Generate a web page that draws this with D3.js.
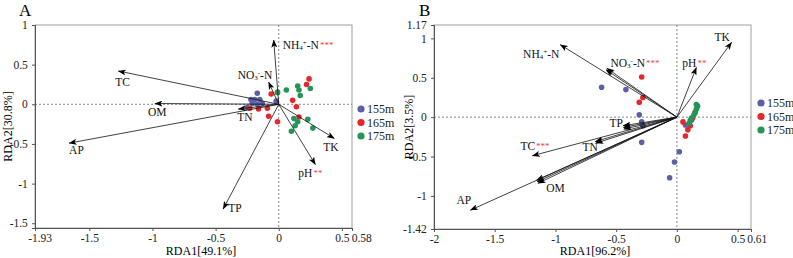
<!DOCTYPE html>
<html>
<head>
<meta charset="utf-8">
<script src="https://cdn.jsdelivr.net/npm/d3@7"></script>
<style>
  body { margin: 0; background: #fff; }
  svg { font-family: "Liberation Serif", "DejaVu Serif", serif; }
</style>
</head>
<body>
<div id="chart"></div>
<script>
// ---- data ----
const groups = ["155m", "165m", "175m"];
const groupColors = ["#5a5fa6", "#e5262b", "#23955a"];

// panel A
const aEnvNames = ["TC", "OM", "AP", "TN", "TP", "TK", "pH", "NH4-N", "NO3-N"];
const aEnvX = [-1.27, -0.98, -1.66, -0.32, -0.44, 0.44, 0.29, -0.04, -0.08];
const aEnvY = [0.42, 0.01, -0.49, -0.06, -1.32, -0.43, -0.76, 0.81, 0.28];
const aEnvStars = ["", "", "", "", "", "", "**", "***", ""];

const a155X = [-0.17, -0.19, -0.15, -0.21, -0.17, -0.13, -0.02, -0.25, -0.22];
const a155Y = [0.14, 0.06, 0.06, 0.01, 0.0, 0.01, 0.04, -0.04, 0.06];
const a165X = [0.24, 0.22, -0.06, -0.01, 0.11, 0.14, -0.23, -0.16, -0.09, -0.08, -0.01, 0.16];
const a165Y = [0.32, 0.25, 0.13, 0.15, 0.05, -0.03, -0.05, -0.06, -0.05, -0.15, -0.22, -0.16];
const a175X = [-0.01, 0.06, 0.15, 0.16, 0.17, 0.25, 0.12, 0.15, 0.13, 0.23, 0.27, 0.10];
const a175Y = [0.15, 0.18, 0.23, 0.18, 0.11, 0.20, -0.18, -0.22, -0.27, -0.19, -0.30, -0.34];

// panel B
const bEnvNames = ["NH4-N", "NO3-N", "pH", "TK", "TP", "TN", "TC", "OM", "AP"];
const bEnvX = [-0.96, -0.58, 0.16, 0.45, -0.44, -0.67, -1.19, -1.15, -1.70];
const bEnvY = [0.92, 0.61, 0.63, 0.95, -0.13, -0.32, -0.49, -0.82, -1.18];
const bEnvStars = ["", "***", "**", "", "", "", "***", "", ""];

const b155X = [-0.62, -0.42, -0.31, -0.29, -0.28, -0.29, 0.02, -0.02, -0.06, 0.07, 0.12];
const b155Y = [0.38, 0.35, 0.03, -0.06, -0.11, -0.32, -0.44, -0.57, -0.77, -0.10, -0.04];
const b165X = [-0.29, -0.28, -0.31, 0.05, 0.09, 0.07, 0.15, 0.13, 0.11];
const b165Y = [0.51, 0.25, 0.19, -0.06, -0.16, -0.24, 0.06, -0.01, -0.11];
const b175X = [0.16, 0.17, 0.16, 0.15, 0.14, 0.11, 0.10, 0.12];
const b175Y = [0.16, 0.14, 0.10, 0.06, 0.03, -0.04, -0.08, -0.01];

const W = 793, H = 258;
const svg = d3.select('#chart').append('svg')
    .attr('width', W)
    .attr('height', H);

const defs = svg.append('defs');
defs.append('marker')
    .attr('id', 'head')
    .attr('markerUnits', 'userSpaceOnUse')
    .attr('viewBox', '0 0 8 6')
    .attr('refX', 7.5)
    .attr('refY', 3)
    .attr('markerWidth', 8)
    .attr('markerHeight', 6)
    .attr('orient', 'auto')
    .append('path')
    .attr('d', 'M0,0 L8,3 L0,6 L2,3 Z')
    .attr('fill', '#000');

// label offsets (px, from arrow tip) and parallel line counts, per panel
const aLabelPos = {
    "TC": [-3, 15, 'start'], "OM": [-7, 12, 'start'], "AP": [0, 11, 'start'],
    "TN": [-1, 12, 'start'], "TP": [5, 3, 'start'], "TK": [-11, 13, 'start'],
    "pH": [-17, 12, 'start'], "NH4-N": [9, 9, 'start'], "NO3-N": [-31, -3, 'start']
};
const bLabelPos = {
    "NH4-N": [-1, 13, 'end'], "NO3-N": [4, -2, 'start'], "pH": [-14, -1, 'start'],
    "TK": [-17, -1, 'start'], "TP": [-14, 0, 'start'], "TN": [-13, 9, 'start'],
    "TC": [-12, -6, 'start'], "OM": [9, 10, 'start'], "AP": [-14, -6, 'start']
};
const bLines = { "NO3-N": 2, "TP": 3, "TN": 2, "OM": 3 };

function toPoints(xs, ys) {
    return xs.map((x, i) => ({ x: x, y: ys[i] }));
}

function writeLabel(t, name, stars) {
    if (name === "NH4-N" || name === "NO3-N") {
        t.append('tspan').text(name.slice(0, 2));
        t.append('tspan').text(name[2]).attr('font-size', 7).attr('dy', 1);
        t.append('tspan').text(name === "NH4-N" ? '+' : '-').attr('font-size', 7).attr('dy', -5);
        t.append('tspan').text('-N').attr('dy', 4);
    } else {
        t.append('tspan').text(name);
    }
    if (stars) {
        t.append('tspan').text(stars)
            .attr('fill', '#ef3b3b')
            .attr('font-size', 9)
            .attr('dx', 1)
            .attr('dy', -1);
    }
}

function panel(opts) {
    const g = svg.append('g');
    const x = d3.scaleLinear().domain(opts.xDomain).range([opts.left, opts.right]);
    const y = d3.scaleLinear().domain(opts.yDomain).range([opts.bottom, opts.top]);

    // frame
    g.append('rect')
        .attr('x', opts.left).attr('y', opts.top)
        .attr('width', opts.right - opts.left)
        .attr('height', opts.bottom - opts.top)
        .attr('fill', 'none')
        .attr('stroke', '#a0a0a0')
        .attr('stroke-width', 1);

    // zero lines
    g.append('line')
        .attr('x1', opts.left).attr('x2', opts.right)
        .attr('y1', y(0)).attr('y2', y(0))
        .attr('stroke', '#666').attr('stroke-width', 0.8)
        .attr('stroke-dasharray', '2,2');
    g.append('line')
        .attr('x1', x(0)).attr('x2', x(0))
        .attr('y1', opts.top).attr('y2', opts.bottom)
        .attr('stroke', '#666').attr('stroke-width', 0.8)
        .attr('stroke-dasharray', '2,2');

    // axes
    const xAxis = g.append('g')
        .attr('transform', `translate(0,${opts.bottom})`)
        .call(d3.axisBottom(x).tickValues(opts.xTicks).tickSize(3).tickFormat(d => String(d)));
    const yAxis = g.append('g')
        .attr('transform', `translate(${opts.left},0)`)
        .call(d3.axisLeft(y).tickValues(opts.yTicks).tickSize(3).tickFormat(d => String(d)));
    [xAxis, yAxis].forEach(ax => {
        ax.selectAll('path, line').attr('stroke', '#555');
        ax.selectAll('text')
            .attr('fill', '#222')
            .style('font-family', '"Liberation Serif", serif')
            .style('font-size', '11.5px');
    });
    yAxis.selectAll('text').attr('dx', '-0.1em');
    // nudge crowded end labels
    xAxis.selectAll('.tick').filter(d => d === opts.xTicks[opts.xTicks.length - 1])
        .select('text').attr('dx', opts.lastDx);
    xAxis.selectAll('.tick').filter(d => d === opts.xTicks[0])
        .select('text').attr('dx', opts.firstDx);

    // axis titles
    g.append('text')
        .attr('x', opts.xTitleX).attr('y', 255)
        .attr('text-anchor', 'middle')
        .style('font-size', '12px')
        .text(opts.xTitle);
    g.append('text')
        .attr('transform', `translate(${opts.yTitleX},${(opts.top + opts.bottom) / 2}) rotate(-90)`)
        .attr('text-anchor', 'middle')
        .style('font-size', '12px')
        .text(opts.yTitle);

    // panel letter
    g.append('text')
        .attr('x', opts.letterX).attr('y', 16)
        .style('font-size', '17px')
        .text(opts.letter);

    // sample points
    opts.points.forEach((pts, gi) => {
        g.selectAll(null)
            .data(pts)
            .enter()
            .append('circle')
            .attr('cx', d => x(d.x))
            .attr('cy', d => y(d.y))
            .attr('r', 2.8)
            .attr('fill', groupColors[gi]);
    });

    // environmental arrows
    const env = opts.envNames.map((n, i) => ({ name: n, x: opts.envX[i], y: opts.envY[i], stars: opts.envStars[i] }));
    const x0 = x(0), y0 = y(0);
    env.forEach(d => {
        const tx = x(d.x), ty = y(d.y);
        const n = (opts.lines && opts.lines[d.name]) || 1;
        const len = Math.hypot(tx - x0, ty - y0);
        const px = -(ty - y0) / len, py = (tx - x0) / len;
        for (let k = 0; k < n; k++) {
            const off = (k - (n - 1) / 2) * 1.7;
            g.append('line')
                .attr('x1', x0).attr('y1', y0)
                .attr('x2', tx + px * off).attr('y2', ty + py * off)
                .attr('stroke', '#111')
                .attr('stroke-width', 0.8)
                .attr('marker-end', 'url(#head)');
        }
        const lp = opts.labelPos[d.name];
        const t = g.append('text')
            .attr('x', tx + lp[0]).attr('y', ty + lp[1])
            .attr('text-anchor', lp[2])
            .style('font-size', '11.5px')
            .attr('fill', '#111');
        writeLabel(t, d.name, d.stars);
    });

    // legend
    const leg = g.append('g');
    groups.forEach((name, i) => {
        leg.append('circle')
            .attr('cx', opts.legX).attr('cy', opts.legY + i * 13.5)
            .attr('r', 3.6)
            .attr('fill', groupColors[i]);
        leg.append('text')
            .attr('x', opts.legX + 6).attr('y', opts.legY + i * 13.5 + 4)
            .style('font-size', '12px')
            .attr('fill', '#222')
            .text(name);
    });
}

panel({
    letter: 'A', letterX: 19,
    left: 35, right: 352, top: 25, bottom: 228,
    xDomain: [-1.93, 0.58], yDomain: [-1.56, 1],
    xTicks: [-1.93, -1.5, -1, -0.5, 0, 0.5, 0.58],
    yTicks: [-1.5, -1, -0.5, 0, 0.5, 1],
    firstDx: '0.4em', lastDx: '0.8em',
    xTitle: 'RDA1[49.1%]', xTitleX: 201,
    yTitle: 'RDA2[30.8%]', yTitleX: 12,
    envNames: aEnvNames, envX: aEnvX, envY: aEnvY, envStars: aEnvStars,
    labelPos: aLabelPos, lines: null,
    points: [toPoints(a155X, a155Y), toPoints(a165X, a165Y), toPoints(a175X, a175Y)],
    legX: 361, legY: 109
});

panel({
    letter: 'B', letterX: 419,
    left: 434, right: 751, top: 25, bottom: 229,
    xDomain: [-2, 0.61], yDomain: [-1.42, 1.17],
    xTicks: [-2, -1.5, -1, -0.5, 0, 0.5, 0.61],
    yTicks: [-1.42, -1, -0.5, 0, 0.5, 1, 1.17],
    firstDx: '0', lastDx: '0.5em',
    xTitle: 'RDA1[96.2%]', xTitleX: 595,
    yTitle: 'RDA2[3.5%]', yTitleX: 413,
    envNames: bEnvNames, envX: bEnvX, envY: bEnvY, envStars: bEnvStars,
    labelPos: bLabelPos, lines: bLines,
    points: [toPoints(b155X, b155Y), toPoints(b165X, b165Y), toPoints(b175X, b175Y)],
    legX: 761, legY: 103
});
</script>
</body>
</html>
